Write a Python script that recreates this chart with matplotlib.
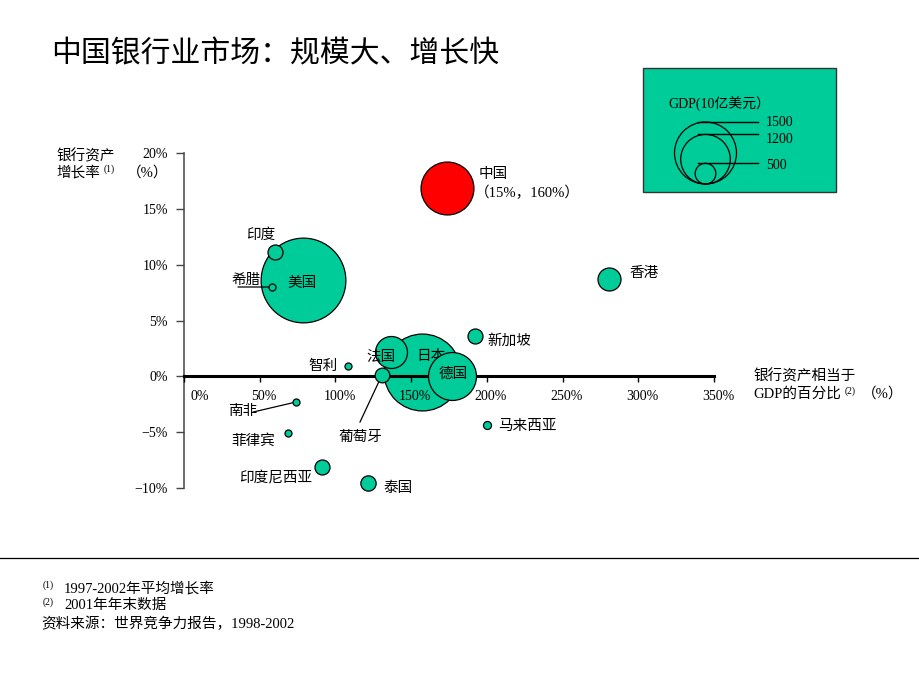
import matplotlib
matplotlib.use('Agg')
import matplotlib.pyplot as plt
import matplotlib.transforms as mtransforms
from matplotlib.patches import Rectangle

plt.rcParams['font.family'] = ['Liberation Serif', 'Noto Sans CJK SC']
plt.rcParams['axes.unicode_minus'] = True

# ---------------- data ----------------
countries = ['中国', '美国', '印度', '希腊', '香港', '新加坡', '日本', '法国',
             '德国', '葡萄牙', '智利', '南非', '菲律宾', '印度尼西亚', '泰国', '马来西亚']
asset_to_gdp = [173.6, 78.5, 60.4, 58.1, 280.9, 192.1, 157.1, 136.9,
                177.2, 130.7, 108.3, 73.9, 68.6, 91.1, 121.5, 200.0]
asset_growth = [16.9, 8.6, 11.1, 8.0, 8.7, 3.6, 0.35, 2.2,
                0.0, 0.1, 0.9, -2.3, -5.1, -8.1, -9.55, -4.35]
gdp_size = [1280, 2050, 363, 170, 556, 363, 1860, 774,
            1160, 355, 170, 170, 170, 363, 370, 194]
highlight = '中国'
china_note = '（15%，160%）'

x_ticks = [0, 50, 100, 150, 200, 250, 300, 350]
x_tick_labels = ['0%', '50%', '100%', '150%', '200%', '250%', '300%', '350%']
y_ticks = [20, 15, 10, 5, 0, -5, -10]
y_tick_labels = ['20%', '15%', '10%', '5%', '0%', '−5%', '−10%']

legend_values = [1500, 1200, 500]
legend_labels = ['1500', '1200', '500']

title = '中国银行业市场：规模大、增长快'
footnotes = ['1997-2002年平均增长率', '2001年年末数据']
source = '资料来源：世界竞争力报告，1998-2002'

# ---------------- style / layout ----------------
DPI = 100
TEAL = '#00CC99'
RED = '#FF0000'
PX = 72 / DPI  # points per pixel


def radius_px(v):
    return 31.0 / 1500.0 * v


def marker_area(v):
    return (2 * radius_px(v) * PX) ** 2


# label offsets in pixels (dx right, dy down) and alignment
label_layout = {
    '中国': (32, -15.5, 'left'),
    '美国': (-1, 1.5, 'center'),
    '印度': (-14.5, -19.5, 'center'),
    '希腊': (-26, -9, 'center'),
    '香港': (20.5, -7.5, 'left'),
    '新加坡': (13, 2.5, 'left'),
    '日本': (9, -17.5, 'center'),
    '法国': (-10.5, 3, 'center'),
    '德国': (1, -4.5, 'center'),
    '葡萄牙': (-21.5, 60, 'center'),
    '智利': (-10, -2, 'right'),
    '南非': (-53, 7, 'center'),
    '菲律宾': (-12.7, 6, 'right'),
    '印度尼西亚': (-9.3, 10, 'right'),
    '泰国': (15, 3.5, 'left'),
    '马来西亚': (11, 0, 'left'),
}
LABEL_DY = 2.0  # global nudge down (px)
leaders = {'希腊': (-34, 0), '南非': (-42.7, 10), '葡萄牙': (-22, 47)}
back_bubbles = {'美国', '日本'}
legend_label_dy = [0, 4, 1]

fig = plt.figure(figsize=(9.2, 6.9), dpi=DPI)
fig.patch.set_facecolor('white')

overlay = fig.add_axes([0, 0, 1, 1], zorder=0)
overlay.set_xlim(0, 920)
overlay.set_ylim(690, 0)
overlay.axis('off')

ax = fig.add_axes([184 / 920, 1 - 488 / 690, 530 / 920, 335 / 690], zorder=1)
ax.patch.set_visible(False)
ax.set_xlim(0, 350)
ax.set_ylim(-10, 20)

for s in ['top', 'right']:
    ax.spines[s].set_visible(False)
ax.spines['bottom'].set_position(('data', 0))
ax.spines['bottom'].set_linewidth(2.2)
ax.spines['bottom'].set_color('black')
ax.spines['bottom'].set_zorder(3)
ax.spines['left'].set_linewidth(1.1)
ax.spines['left'].set_color('#444444')
ax.xaxis.set_zorder(3)

ax.set_xticks(x_ticks)
ax.set_xticklabels(x_tick_labels)
ax.set_yticks(y_ticks)
ax.set_yticklabels(y_tick_labels)
ax.tick_params(axis='x', direction='out', length=4, width=1, color='black',
               pad=5.5, labelsize=10)
ax.tick_params(axis='y', direction='out', length=5.5, width=1, color='#444444',
               pad=6, labelsize=10)

for lab, txt in zip(ax.get_xticklabels(), x_tick_labels):
    dx = 16 if txt == '0%' else 4
    lab.set_transform(lab.get_transform() +
                      mtransforms.ScaledTranslation(dx / DPI, 0, fig.dpi_scale_trans))

# bubbles
for name, x, y, g in zip(countries, asset_to_gdp, asset_growth, gdp_size):
    color = RED if name == highlight else TEAL
    z = 2 if name in back_bubbles else 4
    ax.scatter([x], [y], s=marker_area(g), c=color, edgecolors='black',
               linewidths=0.9, zorder=z, clip_on=False)

    dx, dy, ha = label_layout[name]
    dy += LABEL_DY
    tz = 2.5 if name == '日本' else 6
    ax.annotate(name, xy=(x, y), xytext=(dx * PX, -dy * PX),
                textcoords='offset points', ha=ha, va='center',
                fontsize=10.5, zorder=tz, annotation_clip=False)
    if name == highlight:
        ax.annotate(china_note, xy=(x, y), xytext=(28 * PX, -(3.5 + LABEL_DY) * PX),
                    textcoords='offset points', ha='left', va='center',
                    fontsize=10.5, zorder=6, annotation_clip=False)
    if name in leaders:
        lx, ly = leaders[name]
        ax.annotate('', xy=(x, y), xytext=(lx * PX, -ly * PX),
                    textcoords='offset points', annotation_clip=False,
                    arrowprops=dict(arrowstyle='-', color='black', lw=0.9,
                                    shrinkA=0, shrinkB=radius_px(g) * PX))

# axis titles
overlay.text(56, 156, '银行资产', fontsize=10.5, ha='left', va='center')
overlay.text(56, 173, '增长率', fontsize=10.5, ha='left', va='center')
overlay.text(104, 169, '(1)', fontsize=7, ha='left', va='center')
overlay.text(127, 173, '（%）', fontsize=10.5, ha='left', va='center')

overlay.text(753, 376, '银行资产相当于', fontsize=10.5, ha='left', va='center')
overlay.text(753, 394, 'GDP的百分比', fontsize=10.5, ha='left', va='center')
overlay.text(845, 391, '(2)', fontsize=7, ha='left', va='center')
overlay.text(862, 394, '（%）', fontsize=10.5, ha='left', va='center')

# title
overlay.text(51, 54, title, fontsize=21.5, ha='left', va='center')

# legend box
overlay.add_patch(Rectangle((643, 68), 193, 124, facecolor=TEAL,
                            edgecolor='#333333', lw=1))
overlay.text(668, 104, 'GDP(10亿美元）', fontsize=10, ha='left', va='center')
leg_cx, leg_bottom = 705.5, 184
for v, lab, ldy in zip(legend_values, legend_labels, legend_label_dy):
    r = radius_px(v)
    overlay.scatter([leg_cx], [leg_bottom - r], s=marker_area(v),
                    facecolors='none', edgecolors='black', linewidths=0.9)
    top = leg_bottom - 2 * r
    overlay.plot([698, 758], [top, top], color='black', lw=1)
    overlay.text(766, top + 1 + ldy, lab, fontsize=10, ha='left', va='center')

# separator and footnotes
overlay.plot([0, 920], [558, 558], color='black', lw=0.9)
for i, note in enumerate(footnotes):
    yy = 588 + 17.5 * i
    overlay.text(43, yy - 3, '(%d)' % (i + 1), fontsize=7, ha='left', va='center')
    overlay.text(64, yy, note, fontsize=10.5, ha='left', va='center')
overlay.text(41, 624, source, fontsize=10.5, ha='left', va='center')

fig.savefig('out.png', dpi=DPI, facecolor='white')
